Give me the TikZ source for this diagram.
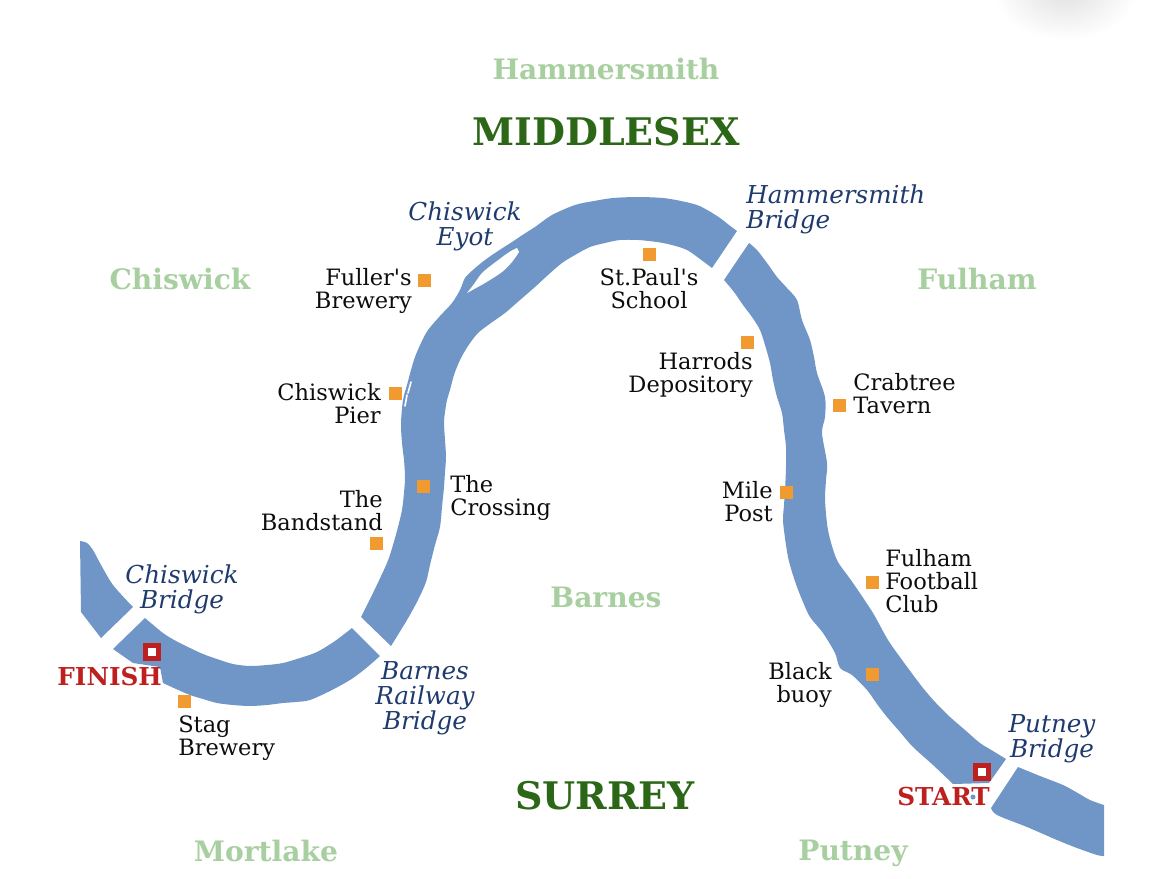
\documentclass[tikz,border=0pt]{standalone}
\usepackage{fontspec}
\setmainfont{DejaVu Serif}[Ligatures=TeXOff]
\definecolor{river}{HTML}{7096C8}
\definecolor{mark}{HTML}{F09A30}
\definecolor{darkg}{HTML}{2B6716}
\definecolor{lightg}{HTML}{A8CFA0}
\definecolor{bluet}{HTML}{1F3B6E}
\definecolor{redt}{HTML}{BE2020}
\tikzset{
  place/.style={font=\fontsize{16.9}{17.2}\selectfont,text=black!95,inner sep=0pt,align=center},
  bridge/.style={font=\fontsize{18.5}{18.75}\selectfont\itshape,text=bluet,inner sep=0pt,align=center},
  area/.style={font=\fontsize{21.1}{24}\selectfont\bfseries,text=lightg,inner sep=0pt},
  county/.style={font=\fontsize{28.5}{30}\selectfont\bfseries,text=darkg,inner sep=0pt},
  endlabel/.style={font=\fontsize{18.5}{20}\selectfont\bfseries,text=redt,inner sep=0pt},
  marker/.style={fill=mark,minimum size=9.75pt,inner sep=0pt,draw=none,rectangle},
  endmark/.style={fill=white,draw=redt,line width=3.4pt,minimum size=9.6pt,inner sep=0pt,rectangle},
  water/.style={fill=river,draw=none},
  sm/.style={smooth,tension=0.5}
}
\begin{document}
\begin{tikzpicture}[x=0.75pt,y=-0.75pt]
\useasboundingbox (0,0) rectangle (1170,878);
\begin{scope}
\clip (0,0) rectangle (1170,878);
\shade[inner color=black!12,outer color=white,draw=none] (1065,-10) ellipse [x radius=72,y radius=50];
\end{scope}
% Upper-left piece above Chiswick Bridge
\fill[water] plot[sm] coordinates {(80,541) (87,543) (93,550) (100,563) (113,585) (133,607)}
  -- (101,638) -- (81,612) -- cycle;
% Chiswick Bridge to Barnes Railway Bridge
\fill[water] plot[sm] coordinates {(145,618) (163,633) (176,641) (190,648) (203,654) (217,659) (233,664) (250,666) (267,665) (283,663) (300,658) (317,652) (335,641) (352,628)}
  -- (380,656) -- plot[sm] coordinates {(380,656) (365,669) (350,680) (330,691) (310,700) (296,702) (283,703) (267,705) (250,706) (233,705) (217,703) (203,699) (190,695) (176,689) (163,683)}
  -- (160,667) -- (133,663) -- (113,649) -- cycle;
% Barnes Railway Bridge to Hammersmith Bridge
\fill[water] plot[sm] coordinates {(361,617) (373,593) (387,563) (393,545) (398,527) (402,510) (404,493) (405,477) (404,460) (402,443) (401,423) (403,400) (407,385) (411,370) (415,357) (421,343) (428,330) (440,316) (452,303) (460,290) (465,278) (474,269) (485,260) (498,251) (512,242) (524,234) (535,227) (552,215) (575,205) (594,201) (613,198) (638,197) (663,198) (681,201) (697,205) (709,211) (720,218) (729,225) (737,231)}
  -- (712,268) -- plot[sm] coordinates {(712,268) (700,259) (687,250) (672,245) (657,242) (638,240) (620,240) (605,243) (590,247) (575,255) (562,263) (548,275) (535,287) (520,300) (505,313) (491,323) (478,333) (468,346) (460,360) (454,375) (450,390) (447,400) (445,412) (444,423) (445,440) (446,457) (445,472) (444,487) (442,507) (440,527) (435,545) (430,565) (426,582) (418,600) (407,620) (391,646)} -- cycle;
% Hammersmith Bridge to Putney Bridge
\fill[water] plot[sm] coordinates {(749,243) (757,250) (767,263) (777,277) (787,288) (797,300) (802,320) (810,340) (814,357) (817,373) (825,397) (825,417) (822,433) (827,463) (826,480) (825,497) (826,514) (828,530) (832,546) (838,562) (853,583) (873,613) (888,640) (905,664) (923,688) (936,703) (950,717) (965,730) (980,743) (993,751) (1006,759)}
  -- (989,783) -- (953,784) -- plot[sm] coordinates {(953,784) (933,765) (913,747) (900,732) (887,717) (877,704) (867,690) (852,675) (840,668) (835,653) (823,633) (810,617) (803,602) (797,587) (792,572) (788,557) (785,538) (783,520) (784,505) (785,490) (786,468) (786,447) (784,430) (782,413) (777,397) (773,380) (770,363) (765,345) (760,330) (752,317) (743,305) (734,292) (724,280)} -- cycle;
\fill[water] (973,797) circle [radius=2.5];
% Below Putney Bridge
\fill[water] (1018,767) -- plot[sm] coordinates {(1018,767) (1040,776) (1063,785) (1076,792) (1090,800) (1104,805)}
  -- (1104,856) -- plot[sm] coordinates {(1104,856) (1097,855) (1077,848) (1057,840) (1027,827) (997,815) (991,808)} -- cycle;
% Islands
\fill[white] (467,293) -- plot[sm] coordinates {(467,293) (474,284) (482,273) (493,264) (505,255) (511,251) (517,248)} -- (519,252) -- plot[sm] coordinates {(519,252) (512,262) (502,272) (485,283) (476,288) (467,293)} -- cycle;
\draw[white,line width=1.2pt,line cap=round] (411,382) -- (408,393);
\draw[white,line width=1.2pt,line cap=round] (407,395) -- (405,406);
% Markers
\node[marker] (mFuller) at (424,280) {};
\node[marker] (mPaul) at (649,254) {};
\node[marker] (mHarrods) at (747,342) {};
\node[marker] (mPier) at (395,393) {};
\node[marker] (mCrabtree) at (839,405) {};
\node[marker] (mCrossing) at (423,486) {};
\node[marker] (mBandstand) at (376,543) {};
\node[marker] (mMile) at (786,492) {};
\node[marker] (mFulham) at (872,582) {};
\node[marker] (mBuoy) at (872,674) {};
\node[marker] (mStag) at (184,701) {};
\node[endmark] (mStart) at (982,772) {};
\node[endmark] (mFinish) at (152,652) {};
% Areas and counties
\node[area] (tHammersmith) at (606,69) {Hammersmith};
\node[county] (tMiddlesex) at (606,132) {MIDDLESEX};
\node[area] (tChiswick) at (180,279) {Chiswick};
\node[area] (tFulham) at (977,279) {Fulham};
\node[area] (tBarnes) at (606,597) {Barnes};
\node[area] (tMortlake) at (266,851) {Mortlake};
\node[area] (tPutney) at (853,853) {Putney};
\node[county] (tSurrey) at (605,796) {SURREY};
% Bridges
\node[bridge] (bEyot) at (465,226) {Chiswick\\Eyot};
\node[bridge,anchor=west,align=left] (bHammersmith) at (746,209) {Hammersmith\\Bridge};
\node[bridge] (bChiswick) at (182,589) {Chiswick\\Bridge};
\node[bridge] (bBarnes) at (425,698) {Barnes\\Railway\\Bridge};
\node[bridge] (bPutney) at (1052,739) {Putney\\Bridge};
% Places
\node[place,anchor=east,align=right] (pFuller) at (412,291) {Fuller's\\Brewery};
\node[place,anchor=east,align=right] (pPier) at (381,404) {Chiswick\\Pier};
\node[place] (pPaul) at (649,289) {St.Paul's\\School};
\node[place,anchor=east,align=right] (pHarrods) at (753,375) {Harrods\\Depository};
\node[place,anchor=west,align=left] (pCrabtree) at (853,394) {Crabtree\\Tavern};
\node[place,anchor=west,align=left] (pCrossing) at (450,498) {The\\Crossing};
\node[place,anchor=east,align=right] (pBandstand) at (383,511) {The\\Bandstand};
\node[place,anchor=east,align=right] (pMile) at (773,502) {Mile\\Post};
\node[place,anchor=west,align=left] (pFulham) at (885,581) {Fulham\\Football\\Club};
\node[place,anchor=east,align=right] (pBuoy) at (832,685) {Black\\buoy};
\node[place,anchor=west,align=left] (pStag) at (178,738) {Stag\\Brewery};
% Start and finish
\node[endlabel,anchor=east] (tFinish) at (162,677) {FINISH};
\node[endlabel,anchor=east] (tStart) at (990,797) {START};
\end{tikzpicture}
\end{document}
